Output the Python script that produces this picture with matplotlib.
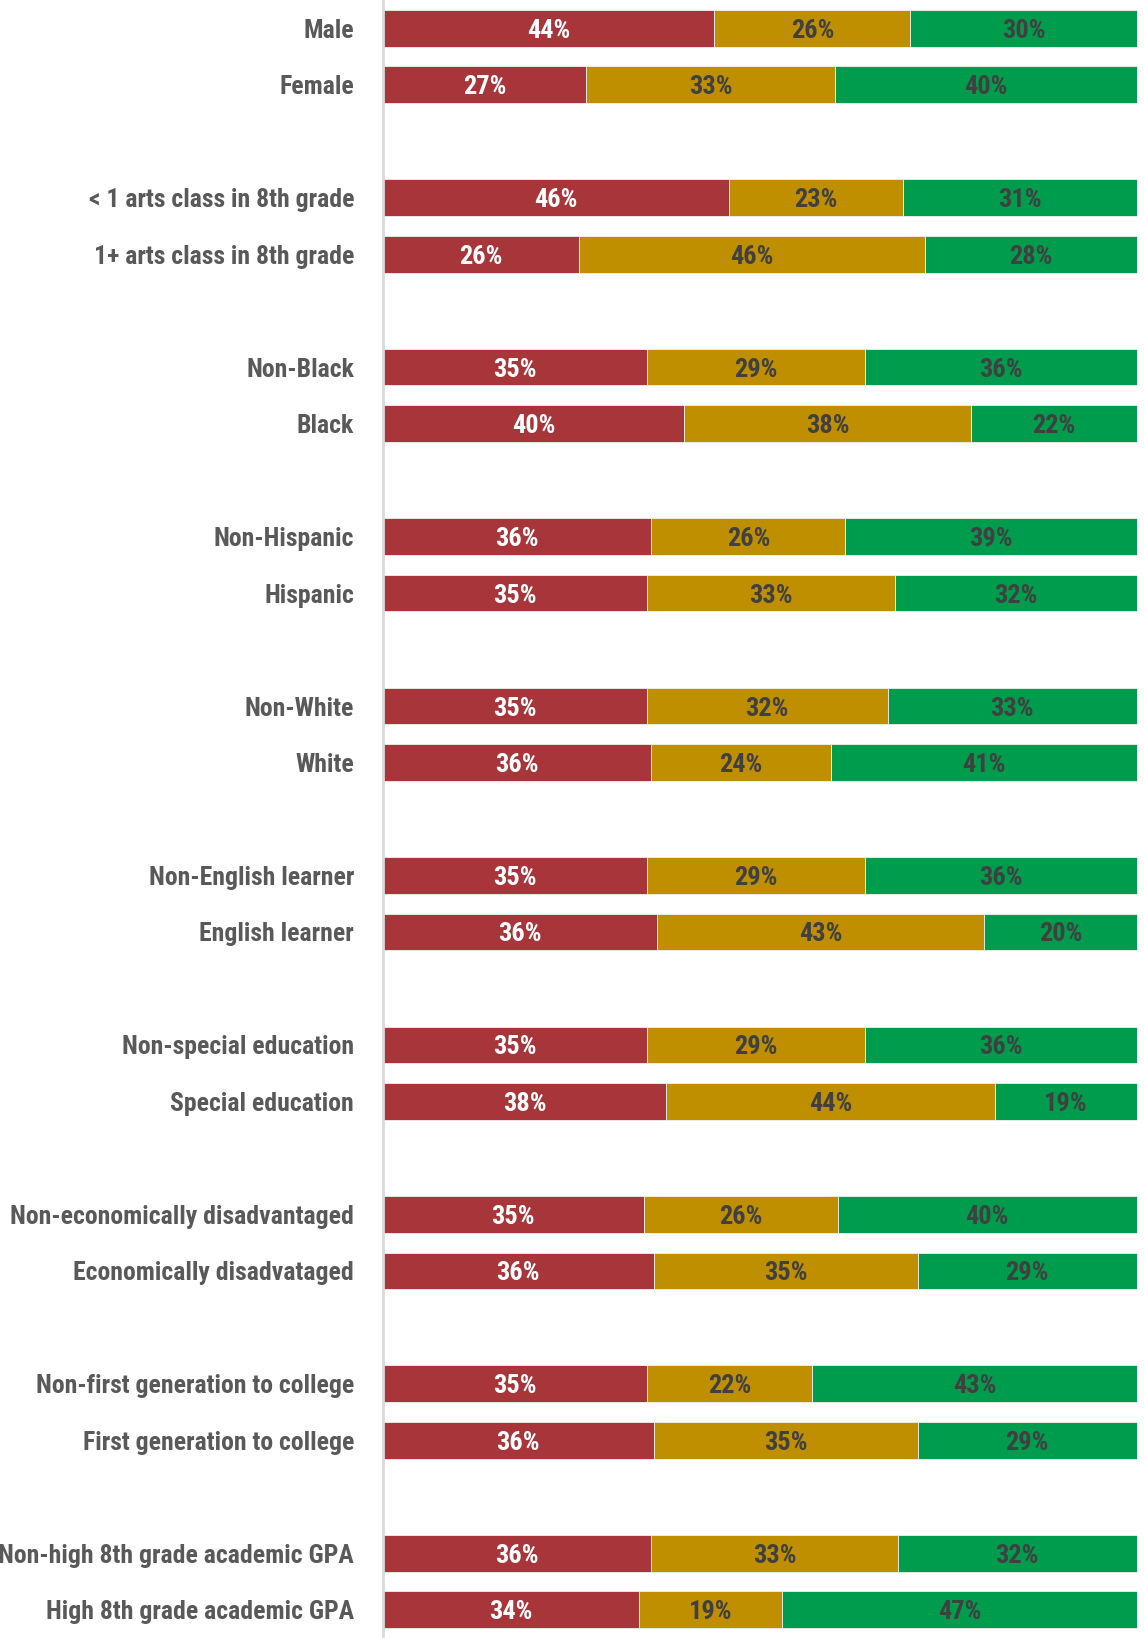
import matplotlib.pyplot as plt
import numpy as np

# Row labels, top to bottom (pairs)
groups = ['Male', 'Female',
          '< 1 arts class in 8th grade', '1+ arts class in 8th grade',
          'Non-Black', 'Black',
          'Non-Hispanic', 'Hispanic',
          'Non-White', 'White',
          'Non-English learner', 'English learner',
          'Non-special education', 'Special education',
          'Non-economically disadvantaged', 'Economically disadvataged',
          'Non-first generation to college', 'First generation to college',
          'Non-high 8th grade academic GPA', 'High 8th grade academic GPA']

# Percent in each of the three categories
red_pct = [44, 27, 46, 26, 35, 40, 36, 35, 35, 36, 35, 36, 35, 38, 35, 36, 35, 36, 36, 34]
gold_pct = [26, 33, 23, 46, 29, 38, 26, 33, 32, 24, 29, 43, 29, 44, 26, 35, 22, 35, 33, 19]
green_pct = [30, 40, 31, 28, 36, 22, 39, 32, 33, 41, 36, 20, 36, 19, 40, 29, 43, 29, 32, 47]

colors = ['#A8353A', '#BF8F00', '#009C4E']
text_colors = ['white', '#404040', '#404040']

plt.rcParams['font.family'] = ['Roboto Condensed', 'DejaVu Sans']
plt.rcParams['font.stretch'] = 'condensed'

fig = plt.figure(figsize=(11.44, 16.38), dpi=100)
ax = fig.add_axes([0.3345, 0.0, 0.659, 1.0])

# each pair takes two slots, then one empty slot
ypos = np.array([3 * (i // 2) + (i % 2) for i in range(len(groups))])

data = np.array([red_pct, gold_pct, green_pct], dtype=float)
totals = data.sum(axis=0)
left = np.zeros(len(groups))
for k in range(3):
    width = data[k] / totals * 100
    ax.barh(ypos, width, left=left, height=0.65, color=colors[k],
            edgecolor='#f0f0f0', linewidth=0.6)
    for y, l, w, v in zip(ypos, left, width, data[k]):
        ax.text(l + w / 2, y, f'{int(v)}%', ha='center', va='center_baseline',
                color=text_colors[k], fontsize=19, fontweight='bold')
    left += width

ax.set_xlim(0, 100)
ax.set_ylim(28.5, -0.5)

# category labels to the left of the axis
for y, name in zip(ypos, groups):
    ax.text(-3.8, y, name, ha='right', va='center_baseline', color='#595959',
            fontsize=18.5, fontweight='bold', clip_on=False)

ax.set_xticks([])
ax.set_yticks([])
for side in ['top', 'right', 'bottom']:
    ax.spines[side].set_visible(False)
ax.spines['left'].set_color('#d9d9d9')
ax.spines['left'].set_linewidth(2)

fig.savefig('out.png', dpi=100)
